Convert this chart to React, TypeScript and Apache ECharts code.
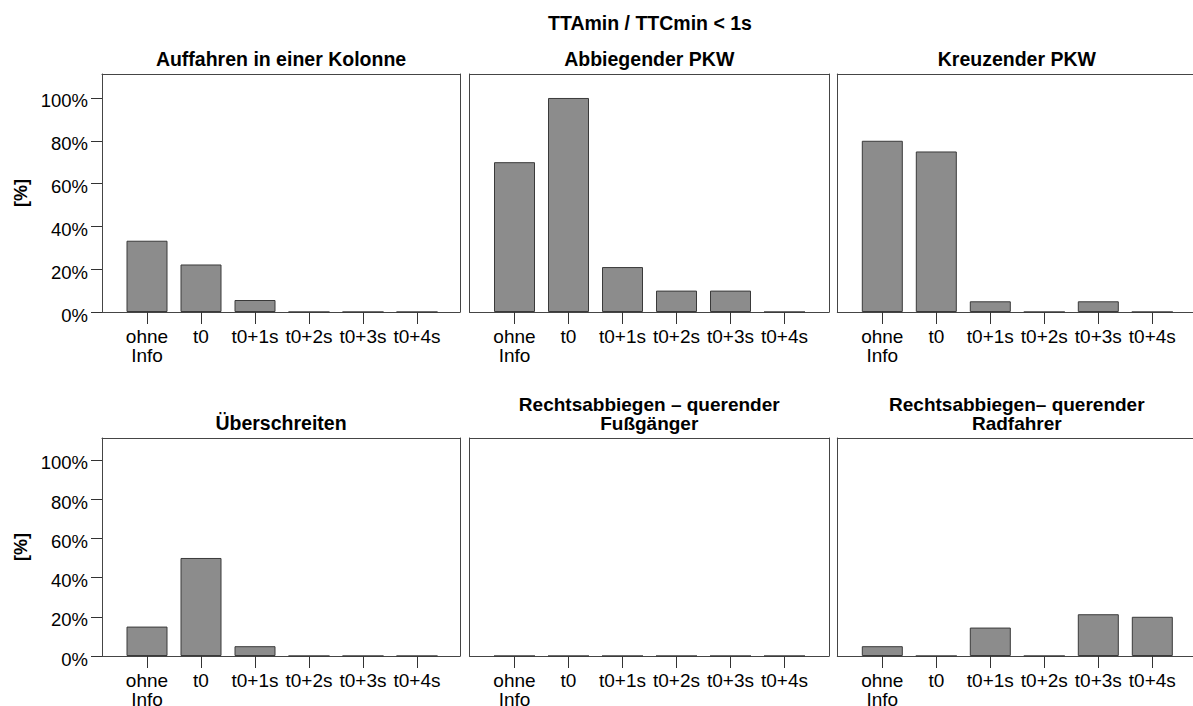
import React, { useEffect, useRef } from 'react';
import * as echarts from 'echarts';

const mainTitle = 'TTAmin / TTCmin < 1s';
const yAxisTitle = '[%]';
const categories = ['ohne\nInfo', 't0', 't0+1s', 't0+2s', 't0+3s', 't0+4s'];
const yTicks = [0, 20, 40, 60, 80, 100];

const panelTitles = [
  'Auffahren in einer Kolonne',
  'Abbiegender PKW',
  'Kreuzender PKW',
  'Überschreiten',
  'Rechtsabbiegen – querender\nFußgänger',
  'Rechtsabbiegen– querender\nRadfahrer',
];

const auffahren = [33.3, 22.2, 5.6, 0, 0, 0];
const abbiegender = [70, 100, 21, 10, 10, 0];
const kreuzender = [80, 75, 5, 0, 5, 0];
const ueberschreiten = [15, 50, 5, 0, 0, 0];
const fussgaenger = [0, 0, 0, 0, 0, 0];
const radfahrer = [5, 0, 14.5, 0, 21.3, 20];

const panelValues = [auffahren, abbiegender, kreuzender, ueberschreiten, fussgaenger, radfahrer];

const FONT = '"Liberation Sans", Arial, Helvetica, sans-serif';
const Y_MAX = 111.2;
const FRAME_COLOR = '#454545';

const cols = [
  { left: 102, width: 358 },
  { left: 469.5, width: 359.5 },
  { left: 837.3, width: 359 },
];
const rows = [
  { top: 74, height: 238, titleCenter: 58.9, axisTitleY: 193 },
  { top: 438, height: 218, titleCenter: 423.2, axisTitleY: 547 },
];
const BAR_INSET = 18;
const BAR_GRID_WIDTH = 324;

function frameAxis(gridIndex: number, position: string, show: boolean) {
  return {
    gridIndex,
    type: 'value',
    position,
    min: 0,
    max: 1,
    axisLine: { show, onZero: false, lineStyle: { color: FRAME_COLOR, width: 1 } },
    axisTick: { show: false },
    axisLabel: { show: false },
    splitLine: { show: false },
  };
}

function buildOption() {
  const grid: any[] = [];
  const xAxis: any[] = [];
  const yAxis: any[] = [];
  const series: any[] = [];
  const title: any[] = [
    {
      text: mainTitle,
      left: 650,
      top: 12.6,
      textAlign: 'center',
      padding: 0,
      textStyle: { fontSize: 19.5, fontWeight: 'bold', color: '#000', fontFamily: FONT, lineHeight: 20 },
    },
  ];
  const graphic: any[] = [];

  panelValues.forEach((values, p) => {
    const r = Math.floor(p / 3);
    const c = p % 3;
    const col = cols[c];
    const row = rows[r];

    // frame grid
    const frameIdx = grid.length;
    grid.push({
      left: col.left,
      top: row.top,
      width: col.width,
      height: row.height,
      containLabel: false,
      outerBoundsMode: 'none',
    });
    xAxis.push(frameAxis(frameIdx, 'bottom', true));
    xAxis.push(frameAxis(frameIdx, 'top', true));
    yAxis.push(frameAxis(frameIdx, 'left', true));
    yAxis.push(frameAxis(frameIdx, 'right', c < 2));

    // bar grid
    const barIdx = grid.length;
    grid.push({
      left: col.left + BAR_INSET,
      top: row.top,
      width: BAR_GRID_WIDTH,
      height: row.height,
      containLabel: false,
      outerBoundsMode: 'none',
    });

    const xIdx = xAxis.length;
    xAxis.push({
      gridIndex: barIdx,
      type: 'category',
      data: categories,
      boundaryGap: true,
      axisLine: { show: false },
      axisTick: { show: true, alignWithLabel: true, length: 12, lineStyle: { color: '#333', width: 1 } },
      axisLabel: {
        interval: 0,
        margin: 15,
        fontSize: 19,
        lineHeight: 19,
        color: '#000',
        fontFamily: FONT,
        hideOverlap: false,
      },
      splitLine: { show: false },
    });

    const showY = c === 0;
    const yIdx = yAxis.length;
    yAxis.push({
      gridIndex: barIdx,
      type: 'value',
      min: 0,
      max: Y_MAX,
      interval: 20,
      offset: BAR_INSET,
      axisLine: { show: false },
      axisTick: {
        show: showY,
        length: 11,
        customValues: yTicks,
        lineStyle: { color: '#333', width: 1 },
      },
      axisLabel: {
        show: showY,
        customValues: yTicks,
        margin: 14,
        fontSize: 18.5,
        color: '#000',
        fontFamily: FONT,
        verticalAlign: 'top',
        lineHeight: 6,
        formatter: (v: number) => (yTicks.indexOf(v) >= 0 ? v + '%' : ''),
      },
      splitLine: { show: false },
    });

    series.push({
      type: 'bar',
      name: panelTitles[p],
      xAxisIndex: xIdx,
      yAxisIndex: yIdx,
      data: values,
      barWidth: 41,
      itemStyle: { color: '#8c8c8c', borderColor: '#3a3a3a', borderWidth: 1 },
      emphasis: { disabled: true },
    });

    const lines = panelTitles[p].split('\n').length;
    const lh = lines > 1 ? 19 : 20;
    const fs = lines > 1 ? 19 : 19.5;
    const firstCenter = lines > 1 ? 404.6 : row.titleCenter;
    title.push({
      text: panelTitles[p],
      left: col.left + col.width / 2,
      top: firstCenter - lh / 2,
      textAlign: 'center',
      padding: 0,
      textStyle: { fontSize: fs, fontWeight: 'bold', color: '#000', fontFamily: FONT, lineHeight: lh },
    });

    if (c === 0) {
      graphic.push({
        type: 'text',
        x: 21,
        y: row.axisTitleY,
        rotation: Math.PI / 2,
        style: {
          text: yAxisTitle,
          fontSize: 18,
          fontWeight: 'bold',
          fill: '#000',
          fontFamily: FONT,
          textAlign: 'center',
          textVerticalAlign: 'middle',
        },
      });
    }
  });

  return {
    animation: false,
    backgroundColor: '#fff',
    title,
    grid,
    xAxis,
    yAxis,
    series,
    graphic,
    tooltip: { show: false },
  };
}

export default function App() {
  const ref = useRef<HTMLDivElement>(null);
  useEffect(() => {
    if (!ref.current) return;
    const chart = echarts.init(ref.current, null, { renderer: 'svg' });
    chart.setOption(buildOption() as any);
    return () => chart.dispose();
  }, []);
  return (
    <div
      ref={ref}
      style={{ position: 'absolute', left: 0, top: 0, width: 1193, height: 706, background: '#fff' }}
    />
  );
}
